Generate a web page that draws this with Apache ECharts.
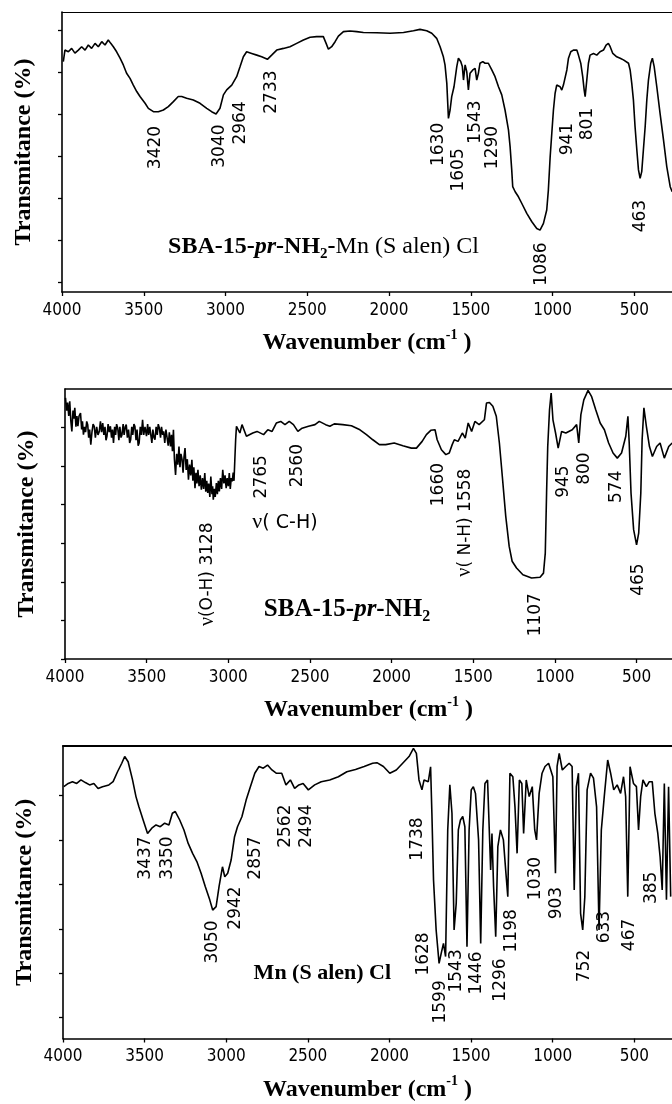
<!DOCTYPE html>
<html>
<head>
<meta charset="utf-8">
<script src="https://cdn.jsdelivr.net/npm/echarts@6/dist/echarts.min.js"></script>
<style>
  html, body { margin: 0; padding: 0; background: #fff; }
  #chart { width: 672px; height: 1104px; }
</style>
</head>
<body>
<div id="chart"></div>
<script>
// ---- FT-IR spectra: wavenumber (cm-1) and transmittance (% of frame height) ----
const xTicks = [4000, 3500, 3000, 2500, 2000, 1500, 1000, 500];

// SBA-15-pr-NH2-Mn(Salen)Cl
const wave1 = [3992,3982,3961,3941,3921,3900,3880,3859,3839,3819,3798,3778,3757,3737,3717,3702,3686,3666,3645,3625,3605,3584,3564,3543,3523,3492,3472,3441,3411,3380,3350,3319,3289,3268,3238,3197,3156,3115,3085,3058,3034,3013,2993,2962,2932,2911,2891,2871,2840,2809,2779,2744,2718,2687,2646,2606,2565,2524,2483,2443,2402,2385,2371,2351,2330,2310,2279,2239,2198,2157,2076,1994,1912,1851,1811,1770,1739,1709,1688,1668,1658,1647,1637,1627,1617,1603,1586,1576,1562,1552,1545,1535,1525,1515,1505,1488,1474,1464,1454,1444,1427,1413,1393,1372,1352,1331,1311,1291,1270,1260,1250,1244,1229,1209,1189,1158,1127,1097,1077,1056,1036,1026,1015,1005,995,985,975,954,944,934,913,903,889,873,852,842,828,816,807,801,791,781,771,750,730,710,689,673,659,648,632,608,587,567,536,526,516,506,496,485,475,465,455,445,434,424,414,400,390,379,363,343,322,302,281,269];
const trans1 = [82.3,86.4,85.8,87.0,85.3,86.4,87.6,86.4,88.2,87.0,88.8,87.6,89.4,88.2,90.0,88.8,87.6,85.8,83.5,81.1,78.1,76.3,73.9,71.6,69.8,67.4,65.6,64.4,64.4,65.0,66.2,68.0,69.8,69.8,69.2,68.6,67.4,65.6,64.4,63.6,65.6,70.4,72.2,73.9,76.9,80.5,84.0,85.8,85.2,84.6,84.0,83.1,84.6,86.4,87.0,87.6,88.8,90.0,91.0,91.2,91.2,88.8,86.7,87.6,89.4,91.4,93.0,93.2,93.0,92.7,92.6,92.4,92.7,93.3,93.8,93.3,92.4,90.6,87.6,84.0,81.1,74.5,62.0,65.0,69.8,73.3,80.5,83.5,82.3,80.5,75.7,81.1,78.7,72.2,78.1,79.3,79.9,75.7,78.1,81.7,82.3,81.7,81.7,79.3,76.9,73.3,70.4,65.0,57.9,51.9,43.6,37.6,35.8,34.0,31.7,28.1,25.1,22.7,22.1,24.5,29.3,36.4,48.3,56.7,65.0,70.9,73.9,73.3,72.1,73.9,79.3,83.5,85.8,86.4,86.4,84.6,81.7,76.9,72.1,69.8,75.7,81.7,84.6,85.2,84.6,85.8,86.4,88.2,88.8,87.6,85.2,84.0,83.5,82.9,81.7,79.3,74.5,68.6,59.1,50.7,43.6,40.6,43.0,50.7,59.1,68.6,75.7,81.7,83.5,80.5,73.3,63.8,54.3,44.8,37.6,35.8];
const peaks1 = ['3420','3040','2964','2733','1630','1605','1543','1290','941','801','1086','463'];

// SBA-15-pr-NH2 (noisy O-H region first, then the rest of the spectrum)
const wave2 = [
  3997,3990,3984,3977,3971,3964,3958,3951,3945,3940,3933,3927,3921,3914,3905,3898,3893,3887,3880,3874,
  3867,3861,3855,3849,3842,3835,3828,3821,3814,3806,3798,3790,3783,3776,3769,3762,3755,3749,3743,3736,
  3729,3722,3715,3709,3703,3696,3690,3684,3677,3670,3664,3657,3651,3644,3638,3631,3625,3618,3611,3604,
  3598,3591,3585,3578,3572,3565,3559,3552,3546,3539,3532,3525,3518,3510,3501,3494,3488,3481,3475,3468,
  3462,3455,3449,3442,3435,3429,3422,3415,3409,3402,3396,3389,3382,3375,3368,3361,3354,3348,3342,3336,
  3330,3323,3316,3309,3302,3296,3290,3283,3277,3271,3265,3258,3251,3244,3237,3230,3223,3217,3211,3204,
  3198,3192,3186,3179,3172,3165,3158,3151,3144,3138,3132,3126,3120,3113,3107,3100,3096,3092,3086,3080,
  3073,3067,3061,3055,3048,3041,3034,3027,3020,3013,3007,3000,2994,2988,2982,2976,2970,2965,2960,2955,
  2950,2929,2916,2889,2850,2824,2784,2758,2732,2706,2679,2653,2627,2601,2574,2548,2509,2469,2443,2404,
  2378,2351,2299,2246,2194,2154,2115,2075,2036,1984,1931,1879,1848,1813,1787,1760,1734,1721,1695,1668,
  1647,1629,1616,1593,1567,1549,1531,1510,1490,1464,1432,1419,1401,1380,1359,1340,1322,1301,1280,1262,
  1235,1196,1143,1091,1070,1059,1051,1044,1033,1023,1012,996,980,959,933,894,867,854,841,823,
  797,776,750,723,697,671,644,618,592,566,553,545,534,518,500,487,474,466,455,440,
  421,403,377,356,330,303,282];
const trans2 = [
  96.7,92,95,90,95.4,88,84.3,92,89,93.0,86,90,86.2,90,91.1,85,88,83.1,86,84,
  88,86.8,82,85,79.4,84,87,86.2,82,86,83,84.3,88,84,87.4,83,86,81,82.5,87,
  84,86.2,82,85,80.0,86,83,87,85.5,81,86,82,83.1,87,83,86,86.8,82,85,80,
  81.2,86,83,87,86.2,81,85,79,80.0,86,83,88.6,83,86,82.5,87,83,86,86.2,80,
  85,82,81.2,86,83,87,85.5,82,86,83,84.3,80,85,85.5,79,84,78.7,83,77,84.9,
  74,68.2,76,72,78.7,71,76,73.8,69,75,78.1,70,74,66.4,72,68,73.8,66,71,63.3,
  69,65,70.1,64,68,62.7,67,63,68.9,62,66,61.5,65,60,67.6,61,64,59.0,63,60,
  65.2,61,66,62.1,67,63,70.1,65,68,63.3,67,64,68.9,63,67,65.8,69,66,73.8,81.2,
  86.2,83.7,86.8,82.5,83.7,84.3,83.1,84.9,84.3,87.4,88.0,86.8,88.0,86.8,84.3,85.5,86.2,86.8,88.0,86.8,
  86.2,87.1,86.8,86.4,84.9,83.1,81.2,79.4,79.4,80.0,79.0,78.1,78.1,80.6,83.1,84.7,84.9,81.2,77.5,75.7,
  76.3,79.4,81.2,80.6,83.7,81.8,87.4,84.3,88.0,86.8,88.6,94.8,95.0,93.6,89.9,80.0,67.6,52.8,41.7,36.2,
  33.7,31.2,30.0,30.3,31.8,39.2,61.5,78.7,92.3,98.5,88.6,83.7,78.1,84.3,83.7,84.9,86.8,80.0,90.5,96.0,
  99.5,97.3,92.3,87.4,84.9,80.0,76.3,74.4,76.3,82.5,89.9,80.0,61.5,47.9,42.3,46.6,61.5,81.2,93.0,86.2,
  78.7,75.0,78.7,80.0,74.4,78.7,80.0];
const peaks2 = ['{nu|\u03bd}(O-H) 3128','2765','2560','1660','{nu|\u03bd}( N-H) 1558','945','800','574','465','1107'];

// Mn(Salen)Cl
const wave3 = [3995,3968,3942,3916,3890,3863,3837,3811,3785,3758,3719,3693,3666,3640,3622,3601,3574,3553,3535,3509,3482,3456,3430,3404,3377,3351,3330,3312,3285,3259,3233,3206,3180,3154,3128,3101,3083,3062,3044,3023,3009,2991,2970,2949,2931,2904,2878,2852,2825,2799,2773,2747,2720,2694,2660,2634,2607,2581,2555,2529,2497,2458,2418,2366,2313,2261,2208,2155,2103,2077,2037,1998,1958,1919,1880,1853,1835,1819,1801,1788,1762,1748,1740,1730,1714,1696,1683,1669,1656,1643,1630,1617,1604,1591,1578,1565,1551,1538,1525,1512,1499,1486,1473,1454,1441,1428,1415,1399,1380,1372,1362,1349,1336,1320,1302,1288,1275,1262,1244,1231,1218,1204,1189,1178,1162,1144,1125,1110,1099,1083,1065,1047,1025,999,983,973,960,941,920,899,881,868,855,842,829,816,803,789,768,750,731,716,702,684,663,645,626,605,584,566,553,540,526,505,487,474,461,447,426,408,390,374,356,342,329,316,303,290,277];
const trans3 = [86.1,87.2,87.8,87.2,88.4,87.5,86.7,87.2,85.5,86.1,86.7,87.8,91.2,94.1,96.4,94.6,88.4,82.7,79.2,74.7,70.1,71.9,73.0,72.4,73.6,73.0,77.0,77.6,74.7,71.3,66.7,63.3,60.5,56.5,51.9,47.4,43.9,45.1,51.9,58.7,55.3,56.5,61.0,69.0,72.4,75.8,81.5,86.1,90.7,93.0,92.4,93.5,91.8,90.7,90.7,86.7,88.4,85.5,86.7,87.2,85.0,86.7,87.8,88.4,89.5,91.2,92.0,93.0,94.1,94.3,93.0,90.7,91.8,94.1,96.4,99.2,97.5,88.4,85.0,88.4,87.8,92.9,77.0,54.2,37.1,25.7,29.1,32.5,28.0,71.3,86.7,77.0,37.1,46.2,71.3,74.7,75.9,72.4,31.4,71.3,85.0,86.1,83.8,67.9,32.5,71.3,87.2,88.4,57.6,70.1,51.9,34.8,65.6,71.3,67.9,57.6,48.5,90.7,89.5,79.2,63.3,88.4,87.2,70.1,88.4,82.7,86.1,71.3,67.9,83.8,90.7,93.0,94.1,89.5,56.5,93.0,97.5,91.8,93.0,94.1,93.0,50.8,86.1,90.7,42.8,37.1,48.5,85.0,90.7,89.0,79.2,37.1,71.3,82.7,95.2,90.7,85.0,86.7,83.8,89.5,82.7,48.5,92.9,87.2,86.1,71.3,82.7,88.4,86.1,87.8,87.8,77.0,70.1,62.2,50.8,87.2,47.4,86.1,48.5];
const peaks3 = ['3437','3350','3050','2942','2857','2562','2494','1738','1628','1599','1543','1446','1296','1198','1030','903','752','633','467','385'];

const sampleNames = [
  '{b|SBA-15-}{bi|pr}{b|-NH}{sub|2}{b|-}{r|Mn (S alen) Cl}',
  '{b|SBA-15-}{bi|pr}{b|-NH}{sub|2}',
  '{b|Mn (S alen) Cl}'
];

// ---- layout: where each annotation sits (axis units) ----
const peakPos1 = [[3425,51.6],[3037,52.1],[2905,60.4],[2716,71.4],[1697,52.7],[1572,43.6],[1474,60.7],[1370,51.6],[911,54.6],[789,60.0],[1066,10.0],[465,27.1]];
const peakPos2 = [[3124,31.4],[2797,67.5],[2573,71.6],[1710,64.6],[1550,50.5],[947,65.7],[816,70.5],[620,63.8],[487,29.4],[1116,16.4]];
const peakPos3 = [[3495,61.7],[3359,61.7],[3083,33.0],[2944,44.6],[2820,61.7],[2635,72.6],[2507,72.6],[1827,68.2],[1789,28.9],[1685,12.5],[1591,23.1],[1467,22.4],[1320,20.0],[1250,36.8],[1104,54.7],[974,46.3],[802,24.8],[684,38.1],[526,35.4],[395,51.5]];
const namePos = [[2401,16.1],[2273,18.3],[2411,22.4]];
const chLabel = { text: '{nu|\u03bd}( C-H)', at: [2653, 50.5] };

const panels = [
  { wave: wave1, trans: trans1, peaks: peaks1, pos: peakPos1, grid: { left: 62, top: 12, height: 280 }, xMin: 270,
    yTicks: [3.6, 18.6, 33.6, 48.6, 63.6, 78.6, 93.6], nameSize: 24, topWidth: 1 },
  { wave: wave2, trans: trans2, peaks: peaks2, pos: peakPos2, grid: { left: 65, top: 389, height: 270 }, xMin: 283,
    yTicks: [0, 14.29, 28.57, 42.86, 57.14, 71.43, 85.71], nameSize: 25, topWidth: 1.5 },
  { wave: wave3, trans: trans3, peaks: peaks3, pos: peakPos3, grid: { left: 63, top: 746, height: 292.5 }, xMin: 269,
    yTicks: [7.2, 22.4, 37.5, 52.7, 67.8, 83.0], nameSize: 22, topWidth: 2 }
];

const serif = "'Liberation Serif', 'Times New Roman', serif";
const sans = "'DejaVu Sans', Verdana, sans-serif";
const narrow = "'Liberation Sans Narrow', 'DejaVu Sans Condensed', 'Arial Narrow', sans-serif";
const ink = '#000';

const grid = [], xAxis = [], yAxis = [], series = [];

// invisible anchor points that only carry a text label
function textSeries(i, items, label) {
  return {
    type: 'scatter', xAxisIndex: 2 * i, yAxisIndex: i, silent: true,
    symbolSize: 0, itemStyle: { color: ink, opacity: 1 },
    data: items,
    label: Object.assign({
      show: true, position: 'inside', formatter: d => d.name, opacity: 1,
      color: ink, textBorderWidth: 0, align: 'center', verticalAlign: 'middle'
    }, label)
  };
}

panels.forEach((p, i) => {
  grid.push({ left: p.grid.left, right: 0, top: p.grid.top, height: p.grid.height, outerBoundsMode: 'none', containLabel: false });

  // bottom wavenumber axis
  xAxis.push({
    type: 'value', gridIndex: i, position: 'bottom', inverse: true, min: p.xMin, max: 4000,
    axisLine: { show: true, onZero: false, lineStyle: { color: ink, width: 1.6 } },
    axisTick: { show: true, inside: false, length: 4, customValues: xTicks, lineStyle: { color: ink, width: 1.3 } },
    axisLabel: { show: true, customValues: xTicks, margin: 10, color: ink, fontFamily: narrow, fontSize: 17,
                 formatter: v => String(v) },
    splitLine: { show: false },
    name: '{t|Wavenumber (cm}{s|-1}{t| )}',
    nameLocation: 'middle', nameGap: 36,
    nameTextStyle: {
      color: ink, fontFamily: serif, fontWeight: 'bold', fontSize: 24,
      rich: {
        t: { fontFamily: serif, fontWeight: 'bold', fontSize: 24, lineHeight: 30, color: ink },
        s: { fontFamily: serif, fontWeight: 'bold', fontSize: 14, lineHeight: 15, verticalAlign: 'top', color: ink }
      }
    }
  });
  // top frame line
  xAxis.push({
    type: 'value', gridIndex: i, position: 'top', inverse: true, min: p.xMin, max: 4000,
    axisLine: { show: true, onZero: false, lineStyle: { color: ink, width: p.topWidth } },
    axisTick: { show: false }, axisLabel: { show: false }, splitLine: { show: false }
  });

  yAxis.push({
    type: 'value', gridIndex: i, min: 0, max: 100,
    axisLine: { show: true, onZero: false, lineStyle: { color: ink, width: 1.6 } },
    axisTick: { show: true, inside: false, length: 4, customValues: p.yTicks, lineStyle: { color: ink, width: 1.3 } },
    axisLabel: { show: false }, splitLine: { show: false },
    name: 'Transmitance (%)', nameLocation: 'middle', nameRotate: 90, nameGap: 26,
    nameTextStyle: { color: ink, fontFamily: serif, fontWeight: 'bold', fontSize: 24 }
  });

  series.push({
    type: 'line', xAxisIndex: 2 * i, yAxisIndex: i, silent: true,
    showSymbol: false, symbol: 'none', clip: true,
    lineStyle: { color: ink, width: 1.6, opacity: 1 },
    data: p.wave.map((w, k) => [w, p.trans[k]])
  });

  // peak annotations, rotated to read bottom-to-top
  series.push(textSeries(i,
    p.peaks.map((t, k) => ({ value: p.pos[k], name: t })),
    { rotate: 90, fontFamily: sans, fontSize: 17,
      rich: { nu: { fontFamily: serif, fontSize: 20, color: ink } } }));

  // sample name inside the frame
  const tok = { fontFamily: serif, fontWeight: 'bold', fontSize: p.nameSize, lineHeight: 30, color: ink };
  series.push(textSeries(i,
    [{ value: namePos[i], name: sampleNames[i] }],
    { rich: {
        b: tok,
        bi: Object.assign({}, tok, { fontStyle: 'italic' }),
        r: Object.assign({}, tok, { fontWeight: i === 2 ? 'bold' : 'normal' }),
        sub: Object.assign({}, tok, { fontSize: Math.round(p.nameSize * 0.62), lineHeight: 17, verticalAlign: 'bottom' })
      } }));
});

// horizontal C-H stretch note in the middle panel
series.push(textSeries(1, [{ value: chLabel.at, name: chLabel.text }],
  { fontFamily: sans, fontSize: 19, rich: { nu: { fontFamily: serif, fontSize: 22, color: ink } } }));

const chart = echarts.init(document.getElementById('chart'), null, { renderer: 'canvas' });
chart.setOption({
  animation: false,
  backgroundColor: '#fff',
  grid, xAxis, yAxis, series
});
</script>
</body>
</html>
